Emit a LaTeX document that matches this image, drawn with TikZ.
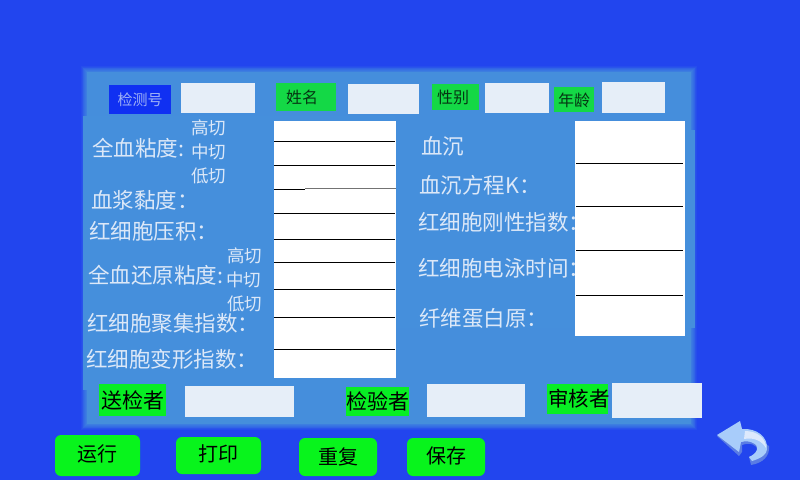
\documentclass[tikz,border=0pt]{standalone}
\usepackage{fontspec}
\setmainfont{Noto Sans CJK SC}
\usetikzlibrary{calc}
\definecolor{bgblue}{HTML}{2245EE}
\definecolor{panelblue}{HTML}{458FDC}
\definecolor{darkbox}{HTML}{1030F2}
\definecolor{fieldgray}{HTML}{E6EEF8}
\definecolor{tagone}{HTML}{14D846}
\definecolor{tagtwo}{HTML}{08EE24}
\definecolor{btngreen}{HTML}{08F41C}
\definecolor{paletext}{HTML}{DCE8F8}
\definecolor{arrowdark}{HTML}{5A7CE4}
\definecolor{arrowlight}{HTML}{A8CCFA}
\definecolor{arrowshine}{HTML}{DDE9FC}
\tikzset{
  fieldbox/.style={fill=fieldgray,inner sep=0pt},
  tagbox/.style={fill=tagone,inner sep=0pt,text=black!75!tagone,font=\fontsize{16}{16}\selectfont},
  tagboxb/.style={fill=tagtwo,inner sep=0pt,text=black,font=\fontsize{21}{21}\selectfont},
  btnbox/.style={fill=btngreen,inner sep=0pt,rounded corners=6pt,text=black,font=\fontsize{20}{20}\selectfont},
  biglabel/.style={anchor=west,inner sep=0pt,text=paletext,font=\fontsize{21.5}{21.5}\selectfont},
  smalllabel/.style={anchor=west,inner sep=0pt,text=paletext,font=\fontsize{17.5}{17.5}\selectfont},
  rowline/.style={black,line width=0.7pt}
}
\begin{document}
\begin{tikzpicture}[x=1pt,y=-1pt]
    \useasboundingbox (0,0) rectangle (800,480);
    \fill[bgblue] (0,0) rectangle (800,480);
    % soft edge of the panel
    \foreach \i in {0,...,8}{
        \pgfmathsetmacro{\mix}{(\i+1)*11}
        \fill[panelblue!\mix!bgblue] (81+\i*0.8,66+\i*0.8) rectangle (697-\i*0.8,430-\i*0.8);
    }
    \fill[panelblue] (83,116) rectangle (395,390);
    \fill[panelblue] (395,130) rectangle (695,328);
    % header and footer boxes
    \foreach \n/\l/\t/\r/\b in {fa/181/83/255/113,fb/348/84/419/114,fc/485/83/549/113,fd/602/82/665/113,
        fe/185/386/294/417,ff/427/384/525/417,fg/612/383/702/418}
        \node[fieldbox,minimum width={(\r-\l)*1pt},minimum height={(\b-\t)*1pt}] (\n) at ({(\l+\r)/2},{(\t+\b)/2}) {};
    \node[inner sep=0pt,fill=darkbox,text=paletext!70!darkbox,font=\fontsize{15}{15}\selectfont,minimum width=62pt,minimum height=29pt] (tagno) at (140,99.5) {检测号};
    \foreach \n/\l/\t/\r/\b/\s/\d in {tname/276/83/336/111/姓名/-4,tsex/432/84/479/110/性别/-2.5,tage/554/87/594/112/年龄/0}
        \node[tagbox,minimum width={(\r-\l)*1pt},minimum height={(\b-\t)*1pt},text depth=0pt,align=center] (\n) at ({(\l+\r)/2},{(\t+\b)/2}) {\hspace*{\d pt}\hspace*{\d pt}\s};
    \foreach \n/\l/\t/\r/\b/\s in {tsend/99/384/166/416/送检者,tcheck/346/387/409/416/检验者}
        \node[tagboxb,minimum width={(\r-\l)*1pt},minimum height={(\b-\t)*1pt}] (\n) at ({(\l+\r)/2},{(\t+\b)/2}) {\s};
    \node[tagboxb,minimum width=61pt,minimum height=30pt] (taudit) at (577.5,399) {};
    \node[inner sep=0pt,text=black,font=\fontsize{20.5}{20.5}\selectfont] (tauditt) at (579,399) {审核者};
    % tables
    \fill[white] (274,121) rectangle (396,378);
    \fill[white] (575,121) rectangle (685,336);
    \foreach \y in {141,165,213,239,262.5,289,317,349}
        \draw[rowline] (274,\y) -- (395,\y);
    \draw[rowline] (274,189) -- (305,189);
    \draw[rowline,black!55] (305,188.5) -- (396,188.5);
    \foreach \y in {163,206,250,295}
        \draw[rowline] (576,\y) -- (683,\y);
    % row labels
    \foreach \n/\x/\y/\s in {la/92/148/全血粘度:,lb/91/200/血浆黏度：,lc/89/231/红细胞压积：,ld/88/275/全血还原粘度:,
        le/87/323/红细胞聚集指数：,lf/86/359/红细胞变形指数：,lg/421/146/血沉,lh/419/185/血沉方程K：,
        li/418/222/红细胞刚性指数：,lj/418/268/红细胞电泳时间：,lk/419/318/纤维蛋白原：}
        \node[biglabel] (\n) at (\x,\y) {\s};
    \foreach \n/\x/\y/\s in {sa/191/128/高切,sb/191/152/中切,sc/191/176/低切,sd/227/256/高切,se/226/280/中切,sf/227/304/低切}
        \node[smalllabel] (\n) at (\x,\y) {\s};
    % buttons
    \foreach \n/\l/\t/\r/\b/\s/\d in {brun/55/435/140/476/运行/-2,bprint/176/437/261/474/打印/-1.5,bredo/299/438/377/476/重复/0,bsave/407/438/485/476/保存/-1}
    {
        \node[btnbox,minimum width={(\r-\l)*1pt},minimum height={(\b-\t)*1pt}] (\n) at ({(\l+\r)/2},{(\t+\b)/2}) {};
        \node[inner sep=0pt,text=black,font=\fontsize{20}{20}\selectfont] (\n t) at ($(\n)+(0,\d)$) {\s};
    }
    % back arrow
    \fill[arrowdark] (717,436) -- (739,456) -- (742,452) -- (742,445) .. controls (750,442) and (757,445) .. (758,450) .. controls (758,453) and (753,456) .. (749,457) -- (751,465) .. controls (763,463) and (770,456) .. (769,446) -- (742,430) -- cycle;
    \fill[arrowlight] (717,435) -- (740,421) -- (742,429) .. controls (757,428) and (768,437) .. (767,449) .. controls (767,454) and (762,458) .. (752,461) -- (749,457) .. controls (758,453) and (760,446) .. (753,443) .. controls (750,441) and (745,441) .. (741,442) -- (739,452) -- cycle;
    \fill[arrowshine] (745,431) .. controls (757,431) and (766,438) .. (766,448) .. controls (762,441) and (754,437) .. (744,439) -- cycle;
\end{tikzpicture}
\end{document}
